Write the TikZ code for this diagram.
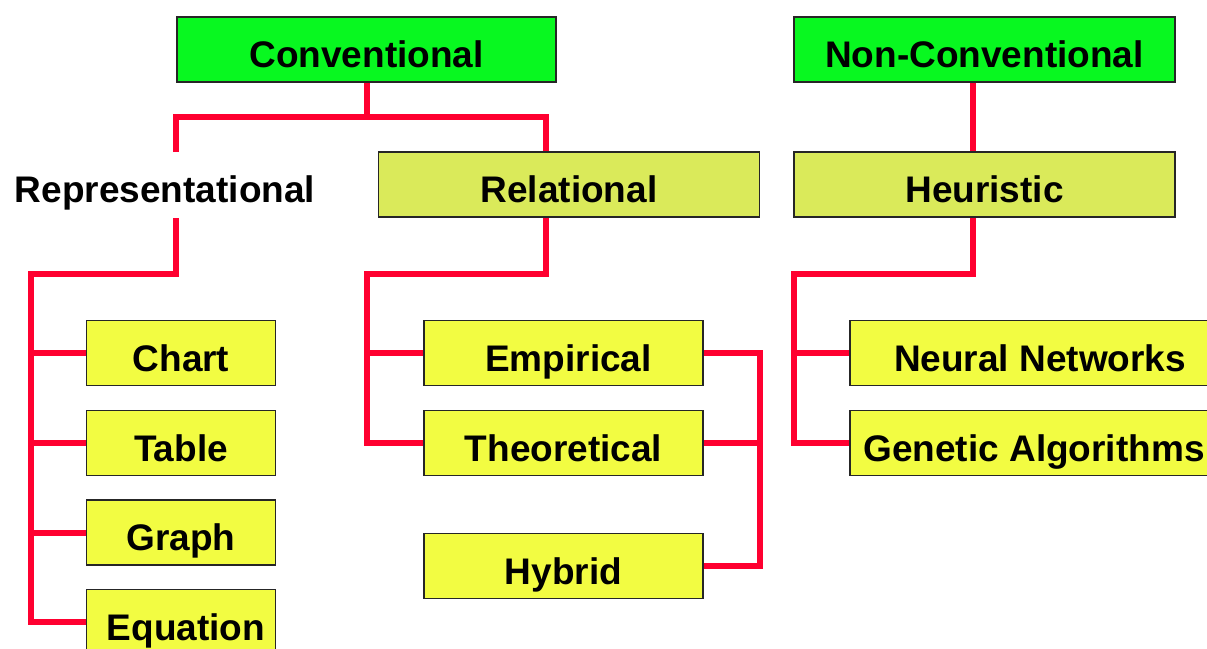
\documentclass[tikz,border=0pt]{standalone}
\usepackage{fontspec}
\setmainfont{Liberation Sans}
\definecolor{topgreen}{RGB}{8,248,32}
\definecolor{midyellow}{RGB}{218,234,90}
\definecolor{leafyellow}{RGB}{242,252,66}
\definecolor{linered}{RGB}{255,0,48}
\pgfdeclarelayer{background}
\pgfsetlayers{background,main}
\begin{document}
\begin{tikzpicture}[x=1pt,y=-1pt,
  lbl/.style={inner sep=0pt, text height=36pt, text depth=0pt,
    font=\fontsize{37}{44}\selectfont\bfseries},
  box/.style={lbl, draw=black!85, line width=1.6pt, minimum height=65pt},
  topbox/.style={box, fill=topgreen, minimum width=380pt},
  midbox/.style={box, fill=midyellow, minimum width=381pt},
  leafbox/.style={box, fill=leafyellow},
  conn/.style={draw=linered, line width=6pt, line join=miter}]
\useasboundingbox (0,0) rectangle (1207,648);

% coordinates of junctions
\coordinate (cJ) at (366.5,117);
\coordinate (cL) at (176,117);
\coordinate (cR) at (546,117);
\coordinate (repT) at (176,152);
\coordinate (repB) at (176,218);
\coordinate (rJ) at (176,274);
\coordinate (rv) at (30.5,274);
\coordinate (lJ) at (546,274);
\coordinate (lv) at (367,274);
\coordinate (bx) at (759.5,353);
\coordinate (hx) at (973,274);
\coordinate (hv) at (794,274);

% nodes
\node[topbox, minimum width=379pt] (conv) at (366.5,49.5) {Conventional};
\node[topbox, minimum width=381pt] (nonconv) at (984.5,49.5) {Non-Conventional};
\node[midbox] (rel) at (569,184.5) {Relational};
\node[midbox] (heur) at (984.5,184.5) {Heuristic};
\node[lbl] (rep) at (165,184.5) {Representational};
\node[leafbox, minimum width=189pt] (chart) at (181,353) {Chart};
\node[leafbox, minimum width=189pt] (table) at (181,443) {Table};
\node[leafbox, minimum width=189pt] (graph) at (181,532.5) {Graph};
\node[leafbox, minimum width=189pt] (eq) at (181,622) {\hspace{10pt}Equation};
\node[leafbox, minimum width=279pt] (emp) at (563.5,353) {\hspace{10pt}Empirical};
\node[leafbox, minimum width=279pt] (theo) at (563.5,443) {Theoretical};
\node[leafbox, minimum width=279pt] (hyb) at (563.5,566) {Hybrid};
\node[leafbox, minimum width=380pt] (neural) at (1040,353) {Neural Networks};
\node[leafbox, minimum width=380pt] (gen) at (1040,443) {\hspace{-12pt}Genetic Algorithms};

% connectors (behind the boxes)
\begin{pgfonlayer}{background}
\fill[white] (0,0) rectangle (1207,648);
\draw[conn] (conv.south) -- (cJ);
\draw[conn] (repT) -- (cL) -- (cR) -- (cR |- rel.north);
\draw[conn] (repB) -- (rJ) -- (rv) -- (rv |- eq.west) -- (eq.west);
\draw[conn] (rv |- chart.west) -- (chart.west);
\draw[conn] (rv |- table.west) -- (table.west);
\draw[conn] (rv |- graph.west) -- (graph.west);
\draw[conn] (lJ |- rel.south) -- (lJ) -- (lv) -- (lv |- theo.west) -- (theo.west);
\draw[conn] (lv |- emp.west) -- (emp.west);
\draw[conn] (emp.east) -- (bx) -- (bx |- hyb.east) -- (hyb.east);
\draw[conn] (theo.east) -- (bx |- theo.east);
\draw[conn] (hx |- nonconv.south) -- (hx |- heur.north);
\draw[conn] (hx |- heur.south) -- (hx) -- (hv) -- (hv |- gen.west) -- (gen.west);
\draw[conn] (hv |- neural.west) -- (neural.west);
\end{pgfonlayer}
\end{tikzpicture}
\end{document}
